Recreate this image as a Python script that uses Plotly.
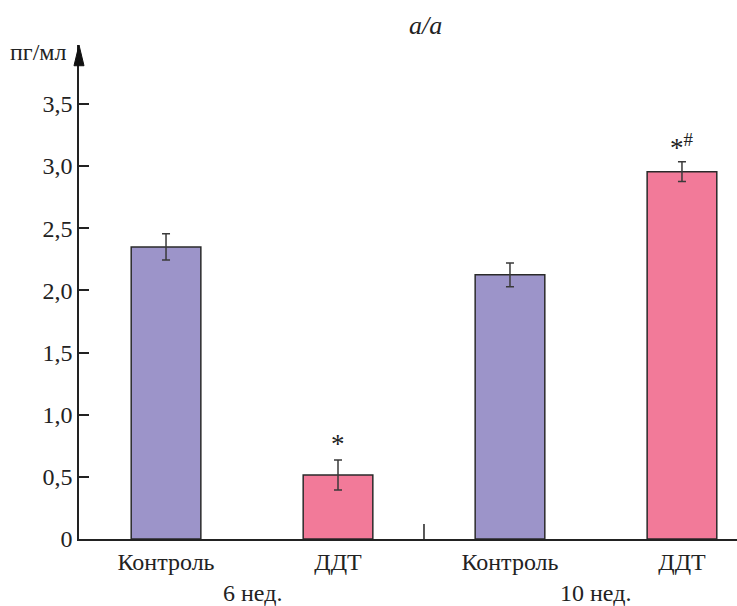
import plotly.graph_objects as go

categories = ["Контроль", "ДДТ", "Контроль", "ДДТ"]
groups = ["6 нед.", "10 нед."]
values = [2.35, 0.515, 2.125, 2.955]
errors = [0.105, 0.12, 0.095, 0.08]
marks = ["", "*", "", "*<sup>#</sup>"]
colors = ["#9c94c9", "#f27a99", "#9c94c9", "#f27a99"]
ytick_vals = [0, 0.5, 1.0, 1.5, 2.0, 2.5, 3.0, 3.5]
ytick_text = ["0", "0,5", "1,0", "1,5", "2,0", "2,5", "3,0", "3,5"]

FONT = "Liberation Serif"
FS = 24
xs = list(range(len(categories)))

fig = go.Figure()
fig.add_trace(go.Bar(
    x=xs, y=values, width=0.405,
    marker=dict(color=colors, line=dict(color="#2a2a2a", width=1.5)),
    error_y=dict(type="data", array=errors, visible=True, color="#3a3a3a",
                 thickness=1.5, width=4),
    showlegend=False,
))

for x, v, e, m in zip(xs, values, errors, marks):
    if m:
        fig.add_annotation(x=x, y=v + e, text=m, showarrow=False, yshift=16,
                           font=dict(family=FONT, size=27, color="#222"))

for i, g in enumerate(groups):
    fig.add_annotation(x=2 * i + 0.5, xref="x", y=0, yref="paper", text=g,
                       showarrow=False, yshift=-69,
                       font=dict(family=FONT, size=FS, color="#222"))

# separator tick between groups
fig.add_shape(type="line", x0=1.5, x1=1.5, y0=0, y1=0.12, xref="x", yref="y",
              line=dict(color="#222", width=1.5))

# arrow head on y axis
fig.add_shape(type="path", xref="paper", yref="paper",
              path="M -0.0076,0.958 L 0,1.0 L 0.0076,0.958 Z",
              fillcolor="#111", line=dict(color="#111", width=1))

fig.add_annotation(x=0.526, xref="paper", y=1 + 20 / 494, yref="paper",
                   yanchor="middle", text="<i>a/a</i>", showarrow=False,
                   font=dict(family=FONT, size=26, color="#222"))

fig.add_annotation(x=0, xref="paper", y=1, yref="paper", text="пг/мл",
                   showarrow=False, xanchor="right", yanchor="middle",
                   xshift=-10, yshift=-7,
                   font=dict(family=FONT, size=FS, color="#222"))

fig.update_layout(
    width=737, height=606,
    margin=dict(l=79, r=0, t=45, b=67),
    plot_bgcolor="white", paper_bgcolor="white",
    font=dict(family=FONT, size=FS, color="#222"),
    xaxis=dict(range=[-0.506, 3.32], tickvals=xs, ticktext=categories,
               showline=True, linecolor="#222", linewidth=1.5,
               ticks="", showgrid=False, zeroline=False,
               tickfont=dict(family=FONT, size=FS, color="#222")),
    yaxis=dict(range=[0, 3.974], tickvals=ytick_vals, ticktext=ytick_text,
               showline=True, linecolor="#222", linewidth=1.5,
               ticks="inside", ticklen=10, tickwidth=1.5, tickcolor="#222",
               showgrid=False, zeroline=False,
               tickfont=dict(family=FONT, size=FS, color="#222")),
)

fig.write_html("out.html", config={"displayModeBar": False},
               post_script="document.body.style.margin='0';")
